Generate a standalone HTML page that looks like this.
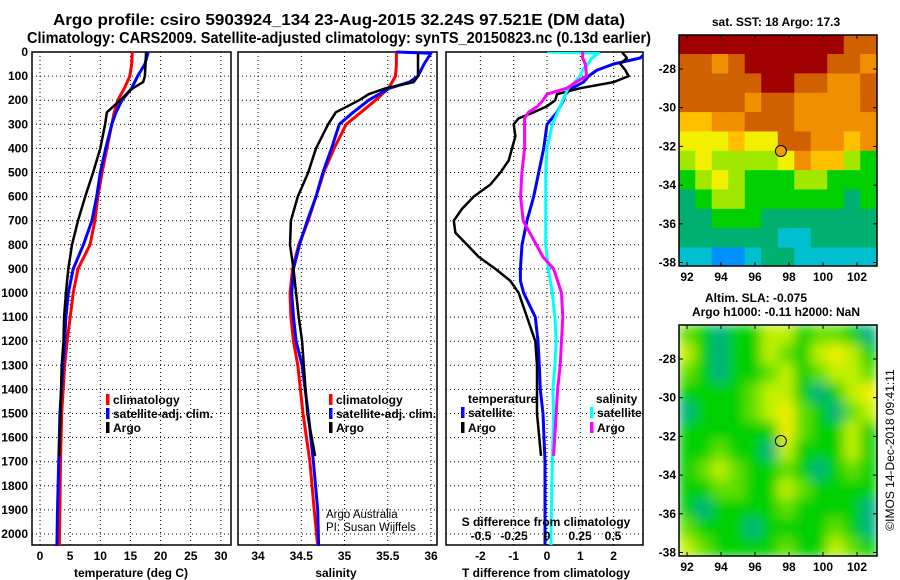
<!DOCTYPE html>
<html><head><meta charset="utf-8"><style>
body{margin:0;background:#fff;}
svg{display:block;font-family:"Liberation Sans",Arial,sans-serif;}
.t{font-weight:bold;font-size:12px;fill:#000;}
.title{font-weight:bold;font-size:16px;}
</style></head><body>
<svg id="chart" width="900" height="580" viewBox="0 0 900 580" xmlns="http://www.w3.org/2000/svg">
<defs>
<filter id="blur" x="0" y="0" width="1" height="1"><feGaussianBlur stdDeviation="6" edgeMode="duplicate"/></filter>
<clipPath id="clip1"><rect x="679" y="35" width="198" height="231"/></clipPath>
<clipPath id="clip2"><rect x="679" y="325" width="198" height="231"/></clipPath>
<clipPath id="clipT"><rect x="446" y="52" width="197" height="493"/></clipPath>
</defs>
<text class="title" x="339" y="25" text-anchor="middle" textLength="572" lengthAdjust="spacingAndGlyphs">Argo profile: csiro 5903924_134 23-Aug-2015 32.24S 97.521E (DM data)</text>
<text class="title" x="339" y="43" text-anchor="middle" textLength="624" lengthAdjust="spacingAndGlyphs">Climatology: CARS2009. Satellite-adjusted climatology: synTS_20150823.nc (0.13d earlier)</text>
<g id="g"></g>
</svg>
<script>
// ---- data ----
const depthTicks=[0,100,200,300,400,500,600,700,800,900,1000,1100,1200,1300,1400,1500,1600,1700,1800,1900,2000];
const tempTicks=[0,5,10,15,20,25,30];
const salTicks=[34,34.5,35,35.5,36];
const tdTicks=[-2,-1,0,1,2];
const sdTicks=[-0.5,-0.25,0,0.25,0.5];
const sdTickLabels=["-0.5","-0.25","0","0.25","0.5"];
const lonTicks=[92,94,96,98,100,102];
const latTicks=[-28,-30,-32,-34,-36,-38];

const climDepth=[0,50,100,150,200,250,300,400,500,600,700,800,900,1000,1100,1200,1300,1500,1700,1900,2050];
const climTemp=[15.3,15.2,14.9,14.0,12.9,12.3,11.9,11.1,10.3,9.6,9.1,8.3,6.3,5.5,5.0,4.5,4.1,3.6,3.4,3.3,3.2];
const climSal=[35.60,35.60,35.59,35.51,35.36,35.19,35.02,34.88,34.76,34.67,34.58,34.47,34.40,34.37,34.38,34.41,34.46,34.52,34.60,34.65,34.69];

const satDepth=[0,5,50,100,125,150,200,250,300,400,500,600,700,800,900,1000,1100,1200,1300,1500,1700,1900,2050];
const satTemp=[17.9,17.9,17.4,16.2,15.7,15.2,13.6,12.6,11.9,10.9,10.0,9.4,8.6,7.2,5.5,4.7,4.3,4.1,3.8,3.3,3.1,2.9,2.8];
const satSal=[35.60,36.0,35.92,35.85,35.75,35.52,35.28,35.10,34.94,34.85,34.75,34.67,34.57,34.48,34.41,34.39,34.41,34.44,34.51,34.58,34.64,34.69,34.70];

const argoDepth=[0,100,125,150,175,200,250,300,400,500,600,700,800,900,1000,1100,1200,1300,1500,1676];
const argoTemp=[17.6,17.4,17.1,15.4,14.3,13.3,11.1,10.8,10.0,8.8,7.5,6.3,5.3,4.7,4.3,4.0,3.9,3.6,3.4,3.2];
const argoSal=[35.85,35.85,35.80,35.48,35.28,35.17,34.90,34.81,34.67,34.58,34.46,34.38,34.37,34.41,34.44,34.47,34.51,34.53,34.57,34.66];

const tdArgoDepth=[0,25,50,75,100,125,150,175,200,225,250,275,300,350,400,450,500,550,600,650,700,750,800,850,900,950,1000,1100,1200,1300,1500,1676];
const tdArgo=[2.25,2.4,2.2,2.35,2.45,2.0,1.0,0.3,0.25,0,-0.4,-0.85,-1.0,-0.95,-1.05,-1.15,-1.4,-1.7,-2.2,-2.55,-2.8,-2.75,-2.4,-2.05,-1.55,-1.1,-0.85,-0.6,-0.35,-0.3,-0.3,-0.18];
const tdSatDepth=[0,25,50,75,100,125,150,175,200,250,300,400,500,600,700,800,900,950,1000,1100,1200,1300,1400,1500,1700,2000,2050];
const tdSat=[3.0,2.8,2.0,1.5,1.25,1.1,0.75,0.55,0.5,0.3,0,-0.1,-0.25,-0.4,-0.6,-0.75,-0.8,-0.8,-0.7,-0.35,-0.27,-0.23,-0.2,-0.12,-0.06,-0.06,-0.06];
const sdSatDepth=[0,5,25,50,75,100,125,150,200,250,300,400,500,600,700,800,900,1000,1100,1200,1300,1400,1500,1700,2000,2050];
const sdSat=[0,0.39,0.34,0.31,0.27,0.25,0.21,0.16,0.12,0.08,0.04,0.0,-0.01,-0.01,-0.01,-0.01,0.01,0.04,0.06,0.07,0.06,0.045,0.05,0.04,0.03,0.03];
const sdArgoDepth=[0,25,50,100,125,150,175,200,225,250,275,300,400,500,600,700,750,800,850,900,950,1000,1100,1200,1300,1400,1500,1676];
const sdArgo=[0.27,0.27,0.29,0.30,0.22,0.15,0.0,-0.03,-0.07,-0.14,-0.17,-0.17,-0.17,-0.19,-0.2,-0.18,-0.13,-0.08,-0.03,0.05,0.08,0.11,0.12,0.11,0.10,0.08,0.07,0.05];

const sstColors=["#0090ff","#00c0d0","#00b070","#00d000","#a0e800","#f0f000","#ffc000","#f09000","#d06000","#a00000"];
const sstGrid=[
[9,9,9,9,9,9,9,9,9,9,8,8],
[8,8,7,8,9,9,9,9,9,8,8,7],
[8,8,8,8,8,9,9,8,8,7,7,8],
[8,8,8,8,7,8,8,7,7,7,7,8],
[6,6,7,7,8,8,8,7,7,7,7,7],
[5,5,5,6,5,5,8,8,7,7,6,7],
[4,5,4,4,4,4,5,7,6,6,4,3],
[3,4,5,4,3,3,3,4,4,3,3,3],
[2,3,4,4,3,3,3,3,3,3,2,3],
[2,2,3,3,3,2,2,2,2,2,2,2],
[2,2,2,2,2,2,1,1,2,2,2,2],
[1,1,0,0,1,2,2,1,1,1,1,1]];
const slaColors=["#00b080","#00d000","#60e000","#c0f000","#f0f000","#f8d000"];
const slaGrid=[
[2,1,0,1,1,3,3,1,2,2,1,0],
[3,1,0,1,1,3,2,1,3,4,3,1],
[2,1,0,1,1,2,3,1,2,3,3,2],
[1,1,1,1,2,3,3,1,0,1,3,4],
[0,1,1,1,2,3,4,2,1,0,2,3],
[1,1,1,1,1,1,4,2,1,1,3,1],
[1,1,2,1,1,0,3,1,1,1,3,1],
[1,2,3,2,1,1,2,1,0,1,2,1],
[1,1,2,2,1,1,3,2,1,1,1,1],
[1,0,1,1,1,1,2,1,1,1,1,0],
[2,1,1,1,0,1,1,1,1,2,1,0],
[3,2,1,1,1,1,2,1,1,3,2,1]];
const floatLon=97.521, floatLat=-32.24;

// ---- helpers ----
const NS="http://www.w3.org/2000/svg";
const G=document.getElementById('g');
function mk(tag,attrs,parent){const e=document.createElementNS(NS,tag);for(const k in attrs)e.setAttribute(k,attrs[k]);(parent||G).appendChild(e);return e;}
const yD=d=>52+0.241*d;
const xT=t=>40+6.03*t;
const xS=s=>258+86.5*(s-34);
const xTD=t=>547+33.3*t;
const xSD=s=>547+132*s;
const PT=52,PB=545;

function panel(x0,x1,name,xt,xfn,labels){
  for(const d of depthTicks){const l=mk('line',{x1:x0,x2:x1,y1:yD(d),y2:yD(d),stroke:'#000','stroke-width':1,'stroke-dasharray':'1,3'});
  }
  xt.forEach((v,i)=>{const X=xfn(v);const l=mk('line',{x1:X,x2:X,y1:PT,y2:PB,stroke:'#000','stroke-width':1,'stroke-dasharray':'1,3'});
  
  if(labels){const t=mk('text',{x:X,y:560,class:'t','text-anchor':'middle'});t.textContent=labels[i];
  }});
  const r=mk('rect',{x:x0,y:PT,width:x1-x0,height:PB-PT,fill:'none',stroke:'#000','stroke-width':1.5});
  
}
function line(xs,ds,xfn,color,name,w,clip){
  const pts=xs.map((v,i)=>xfn(v).toFixed(1)+','+yD(ds[i]).toFixed(1)).join(' ');
  const attrs={points:pts,fill:'none',stroke:color,'stroke-width':w||3,'stroke-linejoin':'round'};
  if(clip)attrs['clip-path']='url(#'+clip+')';
  const p=mk('polyline',attrs);
  
}
function txt(x,y,s,name,extra){const t=mk('text',Object.assign({x:x,y:y,class:'t'},extra||{}));t.textContent=s;
  return t;}
function legend(x,y,color,label,name){const r=mk('rect',{x:x,y:y-10,width:3.5,height:11,fill:color});
  
  txt(x+7,y,label,name+'-label');}

for(const d of depthTicks){txt(28,yD(d)+4,String(d),'depth-tick-label',{'text-anchor':'end'});}

panel(32,231,'temperature-panel',tempTicks,xT,tempTicks.map(String));
line(climTemp,climDepth,xT,'#ff0000','temp-climatology-line');
line(satTemp,satDepth,xT,'#0000ff','temp-satellite-line');
line(argoTemp,argoDepth,xT,'#000','temp-argo-line',2.5);
txt(131,577,'temperature (deg C)','temperature-axis-title',{'text-anchor':'middle'});
legend(106,404,'#f00','climatology','temp-legend-climatology');
legend(106,418,'#00f','satellite-adj. clim.','temp-legend-satellite');
legend(106,432,'#000','Argo','temp-legend-argo');

panel(238,437,'salinity-panel',salTicks,xS,["34","34.5","35","35.5","36"]);
line(climSal,climDepth,xS,'#ff0000','sal-climatology-line');
line(satSal,satDepth,xS,'#0000ff','sal-satellite-line');
line(argoSal,argoDepth,xS,'#000','sal-argo-line',2.5);
txt(336,577,'salinity','salinity-axis-title',{'text-anchor':'middle'});
legend(329,404,'#f00','climatology','sal-legend-climatology');
legend(329,418,'#00f','satellite-adj. clim.','sal-legend-satellite');
legend(329,432,'#000','Argo','sal-legend-argo');
txt(326,518,'Argo Australia','credit-line-1',{style:'font-weight:normal;font-size:11.5px'});
txt(326,531,'PI: Susan Wijffels','credit-line-2',{style:'font-weight:normal;font-size:11.5px'});

panel(446,643,'difference-panel',tdTicks,xTD,tdTicks.map(String));
line(tdSat,tdSatDepth,xTD,'#0000ff','tdiff-satellite-line',3,'clipT');
line(tdArgo,tdArgoDepth,xTD,'#000','tdiff-argo-line',2.5,'clipT');
line(sdSat,sdSatDepth,xSD,'#00ffff','sdiff-satellite-line',3,'clipT');
line(sdArgo,sdArgoDepth,xSD,'#ff00ff','sdiff-argo-line',3,'clipT');
sdTicks.forEach((v,i)=>txt(xSD(v),540,sdTickLabels[i],'sdiff-tick-label',{'text-anchor':'middle'}));
txt(546,526,'S difference from climatology','sdiff-axis-title',{'text-anchor':'middle'});
txt(546,577,'T difference from climatology','tdiff-axis-title',{'text-anchor':'middle'});
txt(468,403,'temperature','tdiff-legend-title');
legend(461,417,'#00f','satellite','tdiff-legend-satellite');
legend(461,432,'#000','Argo','tdiff-legend-argo');
txt(596,403,'salinity','sdiff-legend-title');
legend(590,417,'#0ff','satellite','sdiff-legend-satellite');
legend(590,432,'#f0f','Argo','sdiff-legend-argo');

const xL=l=>687+17*(l-92);
function map(top,lat28,grid,colors,name,clip,blur,circleFill){
  const ys=l=>lat28+19.35*(-28-l);
  const g=mk('g',{'clip-path':'url(#'+clip+')'});
  
  const inner=mk('g',blur?{filter:'url(#blur)'}:{},g);
  const rows=grid.length,cols=grid[0].length;
  const latTop=-28+(lat28-top)/19.35;
  grid.forEach((row,r)=>row.forEach((v,c)=>{
    const lon0=91.53+c*(11.65/cols);
    const la0=latTop-r*(12/rows);
    const cell=mk('rect',{x:xL(lon0)-0.3,y:ys(la0)-0.3,width:17*11.65/cols+0.6,height:19.35*12/rows+0.6,fill:colors[v]},inner);
    
    
  }));
  const c=mk('circle',{cx:xL(floatLon),cy:ys(floatLat),r:5.5,fill:circleFill,stroke:'#000','stroke-width':1});
  
  const fr=mk('rect',{x:679,y:top,width:198,height:231,fill:'none',stroke:'#000','stroke-width':1.5});
  
  for(const la of latTicks){const y=ys(la);
    mk('line',{x1:679,x2:683,y1:y,y2:y,stroke:'#000'});mk('line',{x1:873,x2:877,y1:y,y2:y,stroke:'#000'});
    txt(676,y+4,String(la),name+'-lat-label',{'text-anchor':'end'});}
  for(const lo of lonTicks){const x=xL(lo);
    mk('line',{x1:x,x2:x,y1:top,y2:top+4,stroke:'#000'});mk('line',{x1:x,x2:x,y1:top+227,y2:top+231,stroke:'#000'});
    txt(x,top+246,String(lo),name+'-lon-label',{'text-anchor':'middle'});}
}
map(35,69,sstGrid,sstColors,'sst-map','clip1',false,'#f0a000');
map(325,359,slaGrid,slaColors,'sla-map','clip2',true,'none');
txt(776,26,'sat. SST: 18 Argo: 17.3','sst-map-title',{'text-anchor':'middle'});
txt(756,302,'Altim. SLA: -0.075','sla-map-title',{'text-anchor':'middle'});
txt(776,316,'Argo h1000: -0.11 h2000: NaN','sla-map-subtitle',{'text-anchor':'middle'});
txt(0,0,'©IMOS 14-Dec-2018 09:41:11','imos-timestamp',{'text-anchor':'middle',transform:'translate(894,450) rotate(-90)',style:'font-weight:normal;font-size:12px'});
</script>
</body></html>
